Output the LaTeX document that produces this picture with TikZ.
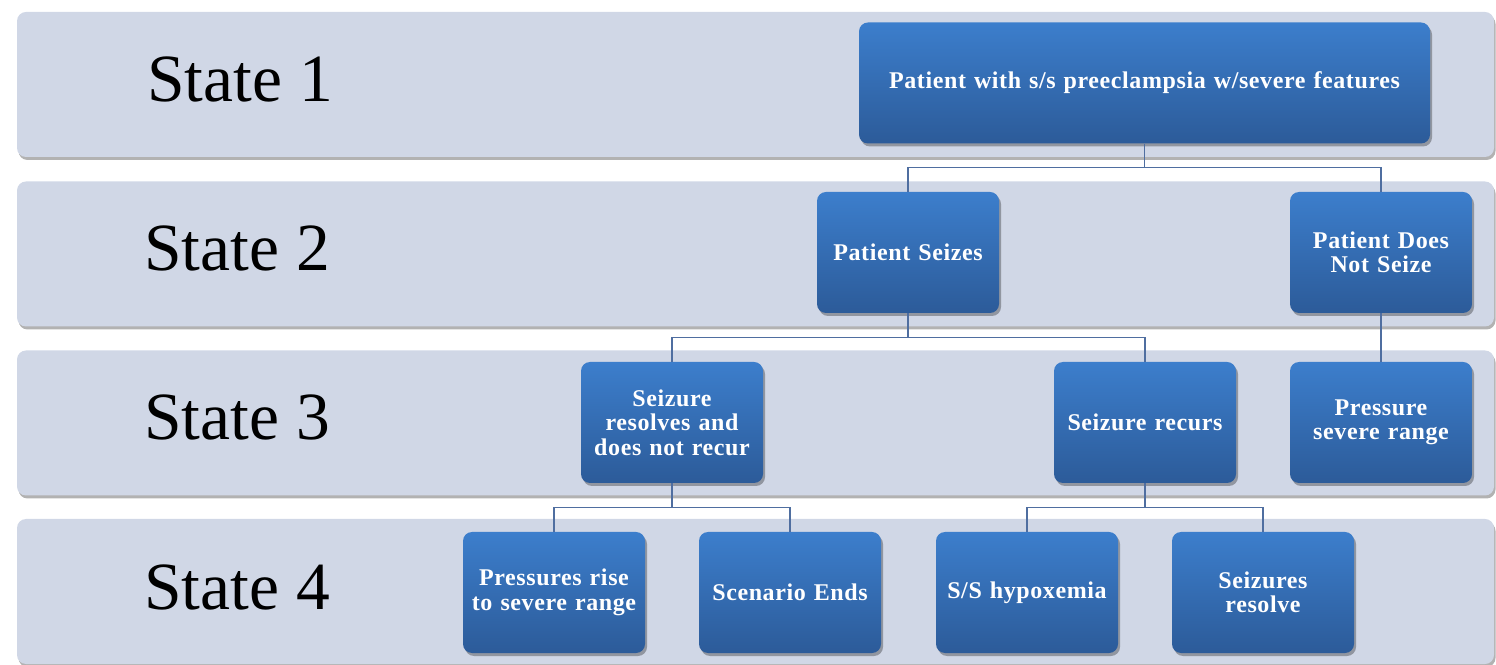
\documentclass[tikz,border=0pt]{standalone}
\usepackage{fontspec}
\setmainfont{Liberation Serif}
\newfontfamily\boxfont[LetterSpace=2.5]{Liberation Serif}
\usetikzlibrary{shadows,calc}

\definecolor{bandfill}{RGB}{208,215,230}
\definecolor{boxtop}{RGB}{60,126,204}
\definecolor{boxbot}{RGB}{44,91,153}
\definecolor{linkc}{RGB}{79,110,160}

\tikzset{
  x=1pt, y=1pt,
  band/.style={fill=bandfill, draw=none, rounded corners=9pt,
    minimum width=1477pt, minimum height=145pt, inner sep=0pt,
    drop shadow={shadow xshift=1.5pt, shadow yshift=-3pt, fill=black!55, opacity=0.55}},
  stlabel/.style={anchor=base west, inner sep=0pt, text=black,
    font=\fontsize{67.5}{72}\selectfont},
  flowbox/.style={draw=none, rounded corners=9pt, top color=boxtop, bottom color=boxbot,
    minimum width=182pt, minimum height=121pt, inner sep=0pt, text width=176pt,
    align=center, text=white, font=\boxfont\bfseries\fontsize{24}{24.5}\selectfont,
    drop shadow={shadow xshift=2pt, shadow yshift=-3pt, fill=black, opacity=0.3}},
  link/.style={draw=linkc, line width=1.3pt}
}

\begin{document}
\begin{tikzpicture}
\useasboundingbox (0,0) rectangle (1496,664);

% horizontal state bands
\node[band] (band1) at (755.5,579.5) {};
\node[band] (band2) at (755.5,410) {};
\node[band] (band3) at (755.5,241) {};
\node[band] (band4) at (755.5,72.5) {};

% state labels
\node[stlabel] (lab1) at (147,562) {State 1};
\node[stlabel] (lab2) at (144,393) {State 2};
\node[stlabel] (lab3) at (144,224) {State 3};
\node[stlabel] (lab4) at (144,55) {State 4};

% decision tree boxes
\node[flowbox, minimum width=571pt, text width=560pt] (b1) at (1144.5,581) {Patient with s/s preeclampsia w/severe features};

\node[flowbox] (s2a) at (908,411.5) {Patient Seizes};
\node[flowbox] (s2b) at (1381,411.5) {Patient Does\\Not Seize};

\node[flowbox] (s3a) at (672,241.5) {Seizure\\resolves and\\does not recur};
\node[flowbox] (s3b) at (1145,241.5) {Seizure recurs};
\node[flowbox] (s3c) at (1381,241.5) {Pressure\\severe range};

\node[flowbox] (s4a) at (554,71.5) {Pressures rise\\to severe range};
\node[flowbox] (s4b) at (790,71.5) {Scenario Ends};
\node[flowbox] (s4c) at (1027,71.5) {S/S hypoxemia};
\node[flowbox] (s4d) at (1263,71.5) {Seizures\\resolve};

% connectors
\draw[link] (b1.south) |- ($(s2a.north)+(0,24)$) -- (s2a.north);
\draw[link] (b1.south) |- ($(s2b.north)+(0,24)$) -- (s2b.north);
\draw[link] (s2a.south) |- ($(s3a.north)+(0,24)$) -- (s3a.north);
\draw[link] (s2a.south) |- ($(s3b.north)+(0,24)$) -- (s3b.north);
\draw[link] (s2b.south) -- (s3c.north);
\draw[link] (s3a.south) |- ($(s4a.north)+(0,24)$) -- (s4a.north);
\draw[link] (s3a.south) |- ($(s4b.north)+(0,24)$) -- (s4b.north);
\draw[link] (s3b.south) |- ($(s4c.north)+(0,24)$) -- (s4c.north);
\draw[link] (s3b.south) |- ($(s4d.north)+(0,24)$) -- (s4d.north);
\end{tikzpicture}
\end{document}
